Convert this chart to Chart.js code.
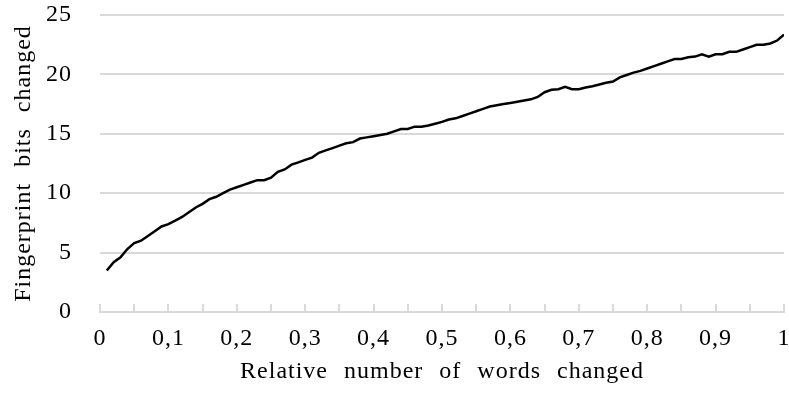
<!DOCTYPE html>
<html lang="en">
<head>
  <meta charset="UTF-8" />
  <title>Fingerprint bits changed</title>
  <script src="https://cdn.jsdelivr.net/npm/chart.js"></script>
  <style>
    body { margin: 0; background: #fff; }
    #wrap { width: 789px; height: 400px; }
  </style>
</head>
<body>

<div id="wrap"><canvas id="chart" width="789" height="400"></canvas></div>

<script>
  // relative number of words changed: 0.01 .. 1.00
  const wordsChanged = [];
  for (let i = 1; i <= 100; i++) wordsChanged.push(i / 100);

  const bitsChanged = [
    3.5, 4.2, 4.6, 5.3, 5.8, 6.0, 6.4, 6.8, 7.2, 7.4,
    7.7, 8.0, 8.4, 8.8, 9.1, 9.5, 9.7, 10.0, 10.3, 10.5,
    10.7, 10.9, 11.1, 11.1, 11.3, 11.8, 12.0, 12.4, 12.6, 12.8,
    13.0, 13.4, 13.6, 13.8, 14.0, 14.2, 14.3, 14.6, 14.7, 14.8,
    14.9, 15.0, 15.2, 15.4, 15.4, 15.6, 15.6, 15.7, 15.85, 16.0,
    16.2, 16.3, 16.5, 16.7, 16.9, 17.1, 17.3, 17.4, 17.5, 17.6,
    17.7, 17.8, 17.9, 18.1, 18.5, 18.7, 18.75, 18.95, 18.75, 18.75,
    18.9, 19.0, 19.15, 19.3, 19.4, 19.75, 19.95, 20.15, 20.3, 20.5,
    20.7, 20.9, 21.1, 21.3, 21.3, 21.45, 21.5, 21.7, 21.5, 21.7,
    21.7, 21.9, 21.9, 22.1, 22.3, 22.5, 22.5, 22.6, 22.85, 23.35
  ];

  const xTickLabels = ['0', '0,1', '0,2', '0,3', '0,4', '0,5', '0,6', '0,7', '0,8', '0,9', '1'];
  const yTicks = [0, 5, 10, 15, 20, 25];

  const font = { family: "'Liberation Serif', 'Times New Roman', serif", size: 24 };
  const gridColor = '#d9d9d9';

  // the source text is set a little wider than plain Times
  const wideText = {
    id: 'wideText',
    beforeDraw(chart) {
      chart.ctx.letterSpacing = '1px';
      chart.ctx.wordSpacing = '9px';
    }
  };

  new Chart(document.getElementById('chart'), {
    type: 'line',
    data: {
      datasets: [{
        data: wordsChanged.map((x, i) => ({ x: x, y: bitsChanged[i] })),
        borderColor: '#000',
        borderWidth: 2.5,
        pointRadius: 0,
        tension: 0,
        fill: false
      }]
    },
    options: {
      responsive: false,
      animation: false,
      layout: { padding: { top: 15, right: 5, left: 0, bottom: 0 } },
      plugins: { legend: { display: false }, tooltip: { enabled: false } },
      scales: {
        x: {
          type: 'linear',
          min: 0,
          max: 1,
          afterFit: s => { s.height = 88; s.paddingLeft = 0; s.paddingRight = 0; },
          ticks: {
            stepSize: 0.05,
            autoSkip: false,
            maxRotation: 0,
            padding: 20,
            color: '#000',
            font: font,
            callback: (v, i) => (i % 2 === 0 ? xTickLabels[i / 2] : '')
          },
          grid: { drawOnChartArea: false, drawTicks: true, tickLength: -8, color: gridColor, lineWidth: 2 },
          border: { display: true, color: gridColor, width: 2 },
          title: {
            display: true,
            text: 'Relative number of words changed',
            color: '#000',
            font: font,
            padding: { top: 0, bottom: 14 }
          }
        },
        y: {
          min: 0,
          max: 25,
          afterFit: s => { s.width = 100; s.paddingTop = 0; s.paddingBottom = 0; },
          afterBuildTicks: s => { s.ticks = yTicks.map(v => ({ value: v })); },
          ticks: { padding: 0, color: '#000', font: font },
          grid: { color: gridColor, lineWidth: 2, drawTicks: true, tickLength: 28, tickColor: 'rgba(0,0,0,0)' },
          border: { display: false },
          title: {
            display: true,
            text: 'Fingerprint bits changed',
            color: '#000',
            font: font,
            padding: { top: 9, bottom: 0 }
          }
        }
      }
    },
    plugins: [wideText]
  });
</script>

</body>
</html>
